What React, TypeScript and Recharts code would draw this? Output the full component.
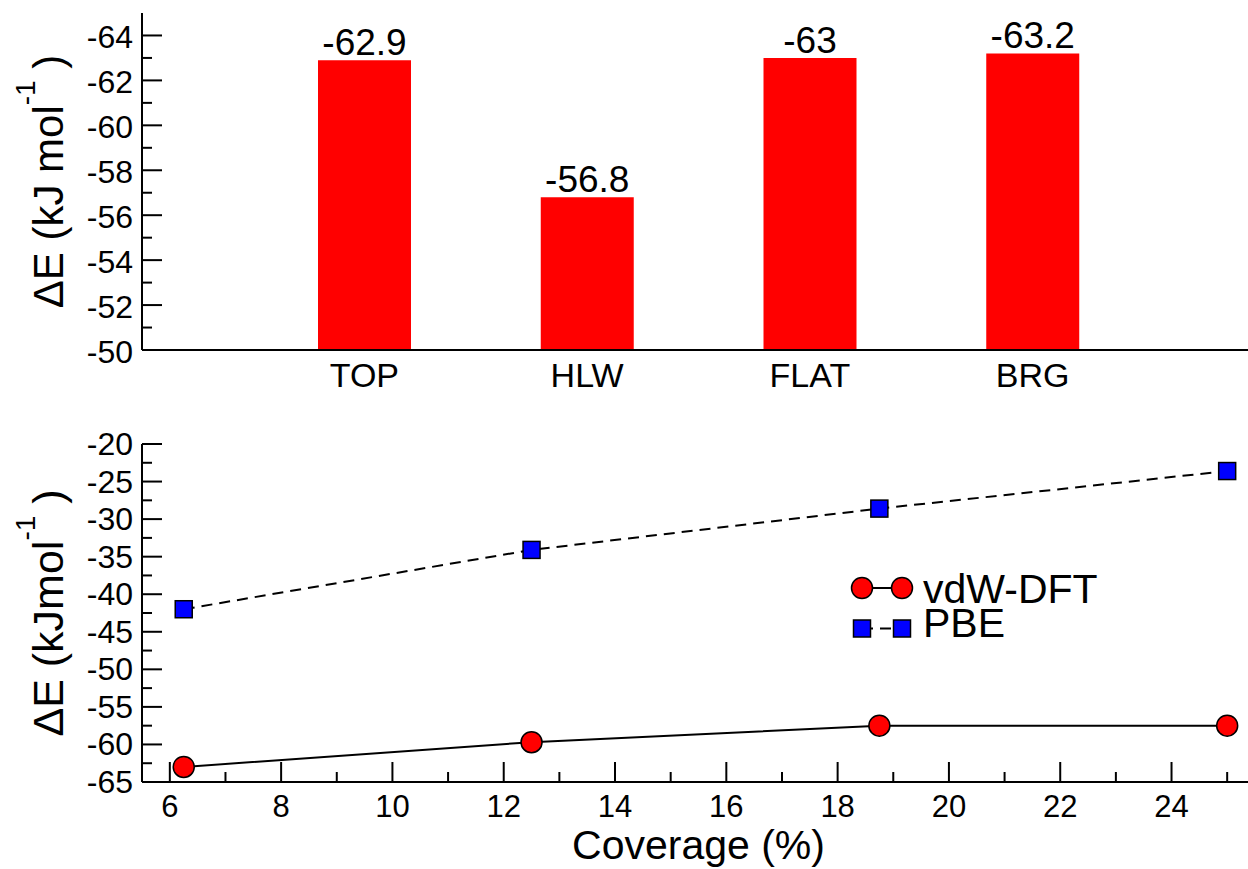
import {
  Bar,
  BarChart,
  LabelList,
  Legend,
  Line,
  LineChart,
  XAxis,
  YAxis,
} from "recharts";

const FONT = "'Liberation Sans', Arial, Helvetica, sans-serif";

// ─── Painel superior: energia por sítio ───────────────────────────────────────
const sites = ["TOP", "HLW", "FLAT", "BRG"];
const siteEnergy = [-62.9, -56.8, -63, -63.2];
const siteTicks = [-64, -63, -62, -61, -60, -59, -58, -57, -56, -55, -54, -53, -52, -51, -50];

// ─── Painel inferior: energia vs cobertura ────────────────────────────────────
const coverage = [6.25, 12.5, 18.75, 25];
const vdwDft = [-63, -59.7, -57.5, -57.5];
const pbe = [-42, -34.1, -28.6, -23.6];
const coverageTicks = [6, 7, 8, 9, 10, 11, 12, 13, 14, 15, 16, 17, 18, 19, 20, 21, 22, 23, 24, 25];
const energyTicks = [-65, -62.5, -60, -57.5, -55, -52.5, -50, -47.5, -45, -42.5, -40, -37.5, -35, -32.5, -30, -27.5, -25, -22.5, -20];

const SERIES = [
  { key: "vdw", name: "vdW-DFT", fill: "#ff0000", dash: undefined, marker: "circle" },
  { key: "pbe", name: "PBE", fill: "#0000ff", dash: "11 7", marker: "square" },
] as const;

const AXIS = { stroke: "#000", strokeWidth: 2 };

// ─── Ticks customizados (para dentro) ─────────────────────────────────────────
function leftTick(isMajor: (v: number) => boolean, dy: number) {
  return ({ x, y, payload }: any) => {
    const major = isMajor(payload.value);
    return (
      <g>
        <line x1={x} x2={x + (major ? 20 : 10)} y1={y} y2={y} stroke="#000" strokeWidth={2} />
        {major && (
          <text x={x - 9} y={y + dy} textAnchor="end" fontSize={32} fontFamily={FONT} fill="#000">
            {payload.value}
          </text>
        )}
      </g>
    );
  };
}

function rightTick(isMajor: (v: number) => boolean) {
  return ({ x, y, payload }: any) => (
    <line x1={x} x2={x - (isMajor(payload.value) ? 20 : 10)} y1={y} y2={y} stroke="#000" strokeWidth={2} />
  );
}

function bottomTick({ x, y, payload }: any) {
  const major = payload.value % 2 === 0;
  return (
    <g>
      <line x1={x} x2={x} y1={y} y2={y - (major ? 20 : 10)} stroke="#000" strokeWidth={2} />
      {major && (
        <text x={x} y={y + 35} textAnchor="middle" fontSize={31} fontFamily={FONT} fill="#000">
          {payload.value}
        </text>
      )}
    </g>
  );
}

function topTick({ x, y, payload }: any) {
  const major = payload.value % 2 === 0;
  return <line x1={x} x2={x} y1={y} y2={y + (major ? 20 : 10)} stroke="#000" strokeWidth={2} />;
}

function CategoryTick({ x, y, payload }: any) {
  return (
    <text x={x} y={y + 37} textAnchor="middle" fontSize={34} fontFamily={FONT} fill="#000">
      {payload.value}
    </text>
  );
}

// ─── Títulos ──────────────────────────────────────────────────────────────────
function YTitle({ viewBox, spaced }: any) {
  const cx = viewBox.x + 63;
  const cy = viewBox.y + viewBox.height / 2;
  return (
    <text
      transform={`rotate(-90 ${cx} ${cy})`}
      x={cx}
      y={cy}
      textAnchor="middle"
      fontSize={spaced ? 42 : 43}
      fontFamily={FONT}
      fill="#000"
    >
      {spaced ? "ΔE (kJ mol" : "ΔE (kJmol"}
      <tspan dy={-28} fontSize={28}>-1</tspan>
      <tspan dy={28}> )</tspan>
    </text>
  );
}

function CoverageTitle({ viewBox }: any) {
  return (
    <text
      x={viewBox.x + viewBox.width / 2}
      y={viewBox.y + 77}
      textAnchor="middle"
      fontSize={41}
      fontFamily={FONT}
      fill="#000"
    >
      Coverage (%)
    </text>
  );
}

function BarValue({ x, y, width, height, value }: any) {
  const top = Math.min(y, y + height);
  return (
    <text x={x + width / 2} y={top - 5} textAnchor="middle" fontSize={37} fontFamily={FONT} fill="#000">
      {value}
    </text>
  );
}

// ─── Marcadores ───────────────────────────────────────────────────────────────
function marker(shape: string, cx: number, cy: number, fill: string, key: string) {
  if (shape === "circle") {
    return <circle key={key} cx={cx} cy={cy} r={10.5} fill={fill} stroke="#000" strokeWidth={1.5} />;
  }
  return <rect key={key} x={cx - 8.5} y={cy - 8.5} width={17} height={17} fill={fill} stroke="#000" strokeWidth={1.5} />;
}

function LegendBox() {
  return (
    <svg width={300} height={90}>
      {SERIES.map((s, i) => {
        const cy = i === 0 ? 28 : 68.5;
        return (
          <g key={s.key}>
            <line x1={22} x2={62} y1={cy} y2={cy} stroke="#000" strokeWidth={2} strokeDasharray={s.dash} />
            {marker(s.marker, 22, cy, s.fill, `${s.key}-a`)}
            {marker(s.marker, 62, cy, s.fill, `${s.key}-b`)}
            <text x={83} y={i === 0 ? 43 : 77} fontSize={41} fontFamily={FONT} fill="#000">
              {s.name}
            </text>
          </g>
        );
      })}
    </svg>
  );
}

// ─── Componente principal ─────────────────────────────────────────────────────
export default function App() {
  const barRows = sites.map((site, i) => ({ site, energy: siteEnergy[i] }));
  const lineRows = coverage.map((c, i) => ({ coverage: c, vdw: vdwDft[i], pbe: pbe[i] }));

  const evenMajor = (v: number) => v % 2 === 0;
  const fiveMajor = (v: number) => v % 5 === 0;

  return (
    <div
      style={{
        position: "absolute",
        left: 0,
        top: 0,
        width: 1248,
        height: 869,
        overflow: "hidden",
        background: "#fff",
        fontFamily: FONT,
      }}
    >
      <BarChart width={1300} height={400} data={barRows} margin={{ top: 13, right: 45, bottom: 0, left: 0 }}>
        <XAxis
          dataKey="site"
          height={50}
          padding={{ left: 111, right: 111 }}
          axisLine={AXIS}
          tickLine={false}
          tickSize={0}
          tickMargin={0}
          interval={0}
          tick={CategoryTick}
        />
        <XAxis
          xAxisId="top"
          orientation="top"
          dataKey="site"
          height={0}
          padding={{ left: 111, right: 111 }}
          axisLine={AXIS}
          tickLine={false}
          tick={false}
        />
        <YAxis
          width={142}
          domain={[-65, -50]}
          reversed
          allowDataOverflow
          ticks={siteTicks}
          interval={0}
          axisLine={AXIS}
          tickLine={false}
          tickSize={0}
          tickMargin={0}
          tick={leftTick(evenMajor, 13)}
          label={(props: any) => <YTitle {...props} spaced />}
        />
        <YAxis
          yAxisId="right"
          orientation="right"
          width={0}
          domain={[-65, -50]}
          reversed
          allowDataOverflow
          ticks={siteTicks}
          interval={0}
          axisLine={AXIS}
          tickLine={false}
          tickSize={0}
          tickMargin={0}
          tick={rightTick(evenMajor)}
        />
        <Bar dataKey="energy" fill="#ff0000" barSize={93} isAnimationActive={false}>
          <LabelList dataKey="energy" content={BarValue} />
        </Bar>
      </BarChart>

      <LineChart width={1300} height={469} data={lineRows} margin={{ top: 44, right: 45, bottom: 0, left: 0 }}>
        <XAxis
          dataKey="coverage"
          type="number"
          domain={[5.5, 25.5]}
          allowDataOverflow
          ticks={coverageTicks}
          interval={0}
          height={87}
          axisLine={AXIS}
          tickLine={false}
          tickSize={0}
          tickMargin={0}
          tick={bottomTick}
          label={(props: any) => <CoverageTitle {...props} />}
        />
        <XAxis
          xAxisId="top"
          orientation="top"
          dataKey="coverage"
          type="number"
          domain={[5.5, 25.5]}
          allowDataOverflow
          ticks={coverageTicks}
          interval={0}
          height={0}
          axisLine={AXIS}
          tickLine={false}
          tickSize={0}
          tickMargin={0}
          tick={topTick}
        />
        <YAxis
          width={142}
          domain={[-65, -20]}
          allowDataOverflow
          ticks={energyTicks}
          interval={0}
          axisLine={AXIS}
          tickLine={false}
          tickSize={0}
          tickMargin={0}
          tick={leftTick(fiveMajor, 11)}
          label={(props: any) => <YTitle {...props} />}
        />
        <YAxis
          yAxisId="right"
          orientation="right"
          width={0}
          domain={[-65, -20]}
          allowDataOverflow
          ticks={energyTicks}
          interval={0}
          axisLine={AXIS}
          tickLine={false}
          tickSize={0}
          tickMargin={0}
          tick={rightTick(fiveMajor)}
        />
        <Legend
          layout="vertical"
          align="center"
          verticalAlign="middle"
          wrapperStyle={{ left: 840, top: 160, width: 300 }}
          content={() => <LegendBox />}
        />
        {SERIES.map((s) => (
          <Line
            key={s.key}
            dataKey={s.key}
            name={s.name}
            type="linear"
            stroke="#000"
            strokeWidth={2}
            strokeDasharray={s.dash}
            dot={(p: any) => marker(s.marker, p.cx, p.cy, s.fill, `${s.key}-${p.index}`)}
            activeDot={false}
            isAnimationActive={false}
          />
        ))}
      </LineChart>
    </div>
  );
}
